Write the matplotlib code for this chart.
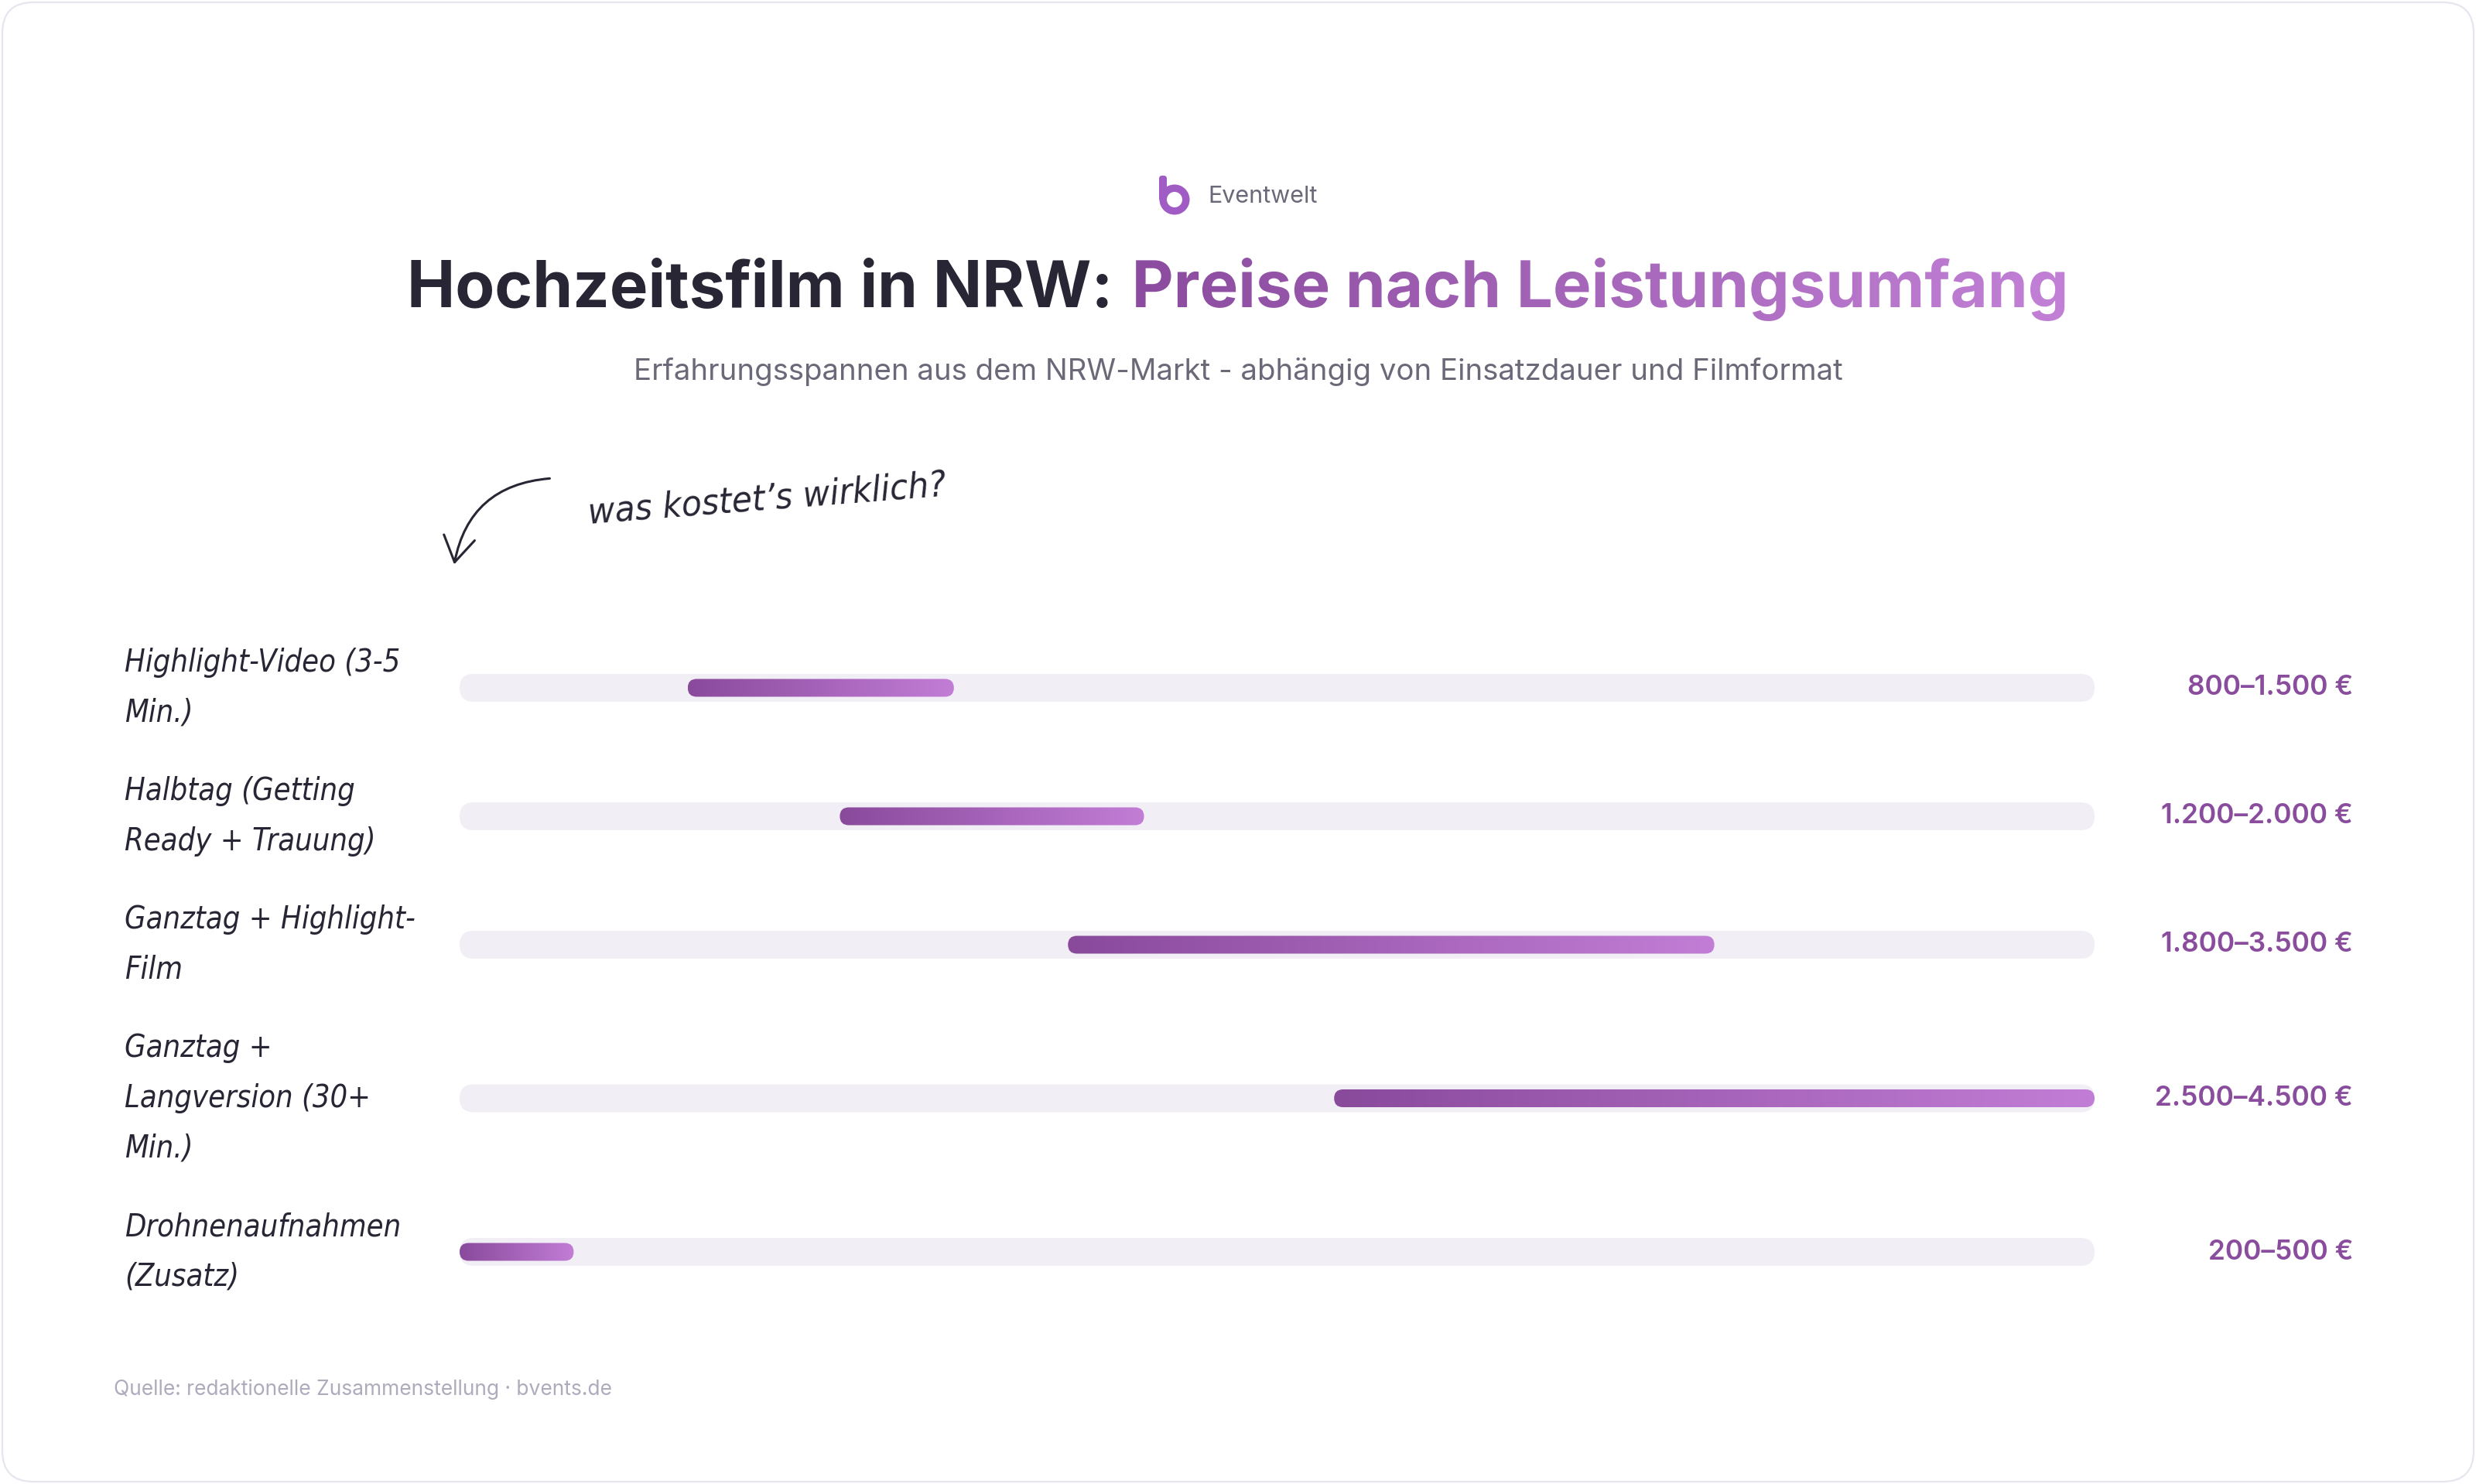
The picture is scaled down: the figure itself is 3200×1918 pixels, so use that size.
import textwrap
import numpy as np
import matplotlib
matplotlib.use("Agg")
import matplotlib.pyplot as plt
import matplotlib.colors as mcolors
from matplotlib import font_manager as fm
from matplotlib.patches import FancyBboxPatch, FancyArrowPatch, Wedge
from matplotlib.patheffects import AbstractPathEffect
from matplotlib.transforms import TransformedPath

# ---------------- data ----------------
categories = [
    "Highlight-Video (3-5 Min.)",
    "Halbtag (Getting Ready + Trauung)",
    "Ganztag + Highlight-Film",
    "Ganztag + Langversion (30+ Min.)",
    "Drohnenaufnahmen (Zusatz)",
]
price_low = [800, 1200, 1800, 2500, 200]
price_high = [1500, 2000, 3500, 4500, 500]

title_dark = "Hochzeitsfilm in NRW:"
title_purple = "Preise nach Leistungsumfang"
subtitle = "Erfahrungsspannen aus dem NRW-Markt - abhängig von Einsatzdauer und Filmformat"
brand = "Eventwelt"
annotation = "was kostet’s wirklich?"
source = "Quelle: redaktionelle Zusammenstellung · bvents.de"

# ---------------- style ----------------
W, H = 3200, 1918
DPI = 200
avail = {f.name for f in fm.fontManager.ttflist}
SANS = [f for f in ["Inter", "Lato", "DejaVu Sans"] if f in avail][0]
HAND = [f for f in ["Liberation Sans Narrow", "DejaVu Sans"] if f in avail][0]

DARK = "#282634"
GREY = "#6b6878"
PURPLE = "#8a4c9c"
GRAD0 = "#8a4a9c"
GRAD1 = "#c27dd6"
TRACK = "#f1eef6"


class GradientFill(AbstractPathEffect):
    """Fill the text outline with a horizontal colour gradient."""

    def __init__(self, c0, c1):
        super().__init__()
        self.c0 = np.array(mcolors.to_rgb(c0))
        self.c1 = np.array(mcolors.to_rgb(c1))

    def draw_path(self, renderer, gc, tpath, affine, rgbFace=None):
        tp = TransformedPath(tpath, affine)
        ext = tp.get_fully_transformed_path().get_extents()
        x0 = int(np.floor(ext.x0)) - 1
        y0 = int(np.floor(ext.y0)) - 1
        w = int(np.ceil(ext.x1)) - x0 + 2
        h = int(np.ceil(ext.y1)) - y0 + 2
        t = np.linspace(0, 1, w)
        rgb = (1 - t)[:, None] * self.c0 + t[:, None] * self.c1
        img = np.empty((h, w, 4), dtype=np.uint8)
        img[..., :3] = (rgb[None, :, :] * 255).astype(np.uint8)
        img[..., 3] = 255
        gc2 = renderer.new_gc()
        gc2.copy_properties(gc)
        gc2.set_clip_path(tp)
        renderer.draw_image(gc2, x0, y0, img)
        gc2.restore()


fig = plt.figure(figsize=(W / DPI, H / DPI), dpi=DPI, facecolor="white")
ax = fig.add_axes([0, 0, 1, 1])
ax.set_xlim(0, W)
ax.set_ylim(H, 0)
ax.axis("off")
renderer = fig.canvas.get_renderer()

HAND_KW = dict(family=HAND, style="italic", fontstretch="condensed", color=DARK)


def fit_size(text, target_px, **kw):
    t = ax.text(0, 0, text, fontsize=10, **kw)
    w = t.get_window_extent(renderer).width
    t.remove()
    return 10 * target_px / w


# card
ax.add_patch(FancyBboxPatch((3, 3), W - 6, H - 6,
                            boxstyle="round,pad=0,rounding_size=40",
                            facecolor="white", edgecolor="#e7e5ee", lw=0.8, zorder=0))

# brand logo (b) + name
logo_c = "#a05cc4"
ax.add_patch(Wedge((1518, 258), 19.5, 0, 360, width=9.5, facecolor=logo_c, edgecolor="none"))
ax.add_patch(FancyBboxPatch((1498, 227), 10, 33, boxstyle="round,pad=0,rounding_size=4",
                            facecolor=logo_c, edgecolor="none"))
ax.text(1561, 262, brand, fontsize=11, color=GREY, family=SANS, ha="left", va="baseline")

# title
t1 = ax.text(0, 397, title_dark, fontsize=30, fontweight="bold", color=DARK,
             family=SANS, ha="left", va="baseline")
t2 = ax.text(0, 397, title_purple, fontsize=30, fontweight="bold", color=GRAD0,
             family=SANS, ha="left", va="baseline",
             path_effects=[GradientFill("#8b4c9f", "#c281d6")])
w1 = t1.get_window_extent(renderer).width
w2 = t2.get_window_extent(renderer).width
gap = 24
start = W / 2 - (w1 + gap + w2) / 2
t1.set_x(start)
t2.set_x(start + w1 + gap)

ax.text(W / 2, 491, subtitle, fontsize=13.8, color=GREY, family=SANS,
        ha="center", va="baseline")

# handwritten annotation + arrow
ann_size = fit_size(annotation, 464, **HAND_KW)
ax.text(761, 677, annotation, fontsize=ann_size, rotation=4.5, rotation_mode="anchor",
        ha="left", va="baseline", **HAND_KW)
ax.add_patch(FancyArrowPatch((716, 618), (586, 735),
                             connectionstyle="arc3,rad=0.4",
                             arrowstyle="->,head_length=0.45,head_width=0.28",
                             mutation_scale=26, lw=1.1, color=DARK))

# ---------------- rows ----------------
labels = [textwrap.fill(c, 20) for c in categories]
nlines = [lab.count("\n") + 1 for lab in labels]
heights = [n * 65 + 36 for n in nlines]
ys = [889.0]
for i in range(1, len(labels)):
    ys.append(ys[-1] + (heights[i - 1] + heights[i]) / 2)

lab_size = fit_size("Drohnenaufnahmen", 357, **HAND_KW)
probe = ax.text(0, 0, "lp", fontsize=lab_size, **HAND_KW)
lp_h = probe.get_window_extent(renderer).height
probe.remove()
lab_ls = 1.1 * 65 / lp_h

track_x0, track_x1 = 594, 2707
axb = fig.add_axes([track_x0 / W, 0, (track_x1 - track_x0) / W, 1])
vmin, vmax = min(price_low), max(price_high)
axb.set_xlim(vmin, vmax)
axb.set_ylim(H, 0)
axb.axis("off")
axb.patch.set_alpha(0)


def pill(axx, x0, x1, yc, h_px):
    p0 = axx.transData.transform((x0, yc))
    p1 = axx.transData.transform((x1, yc))
    ppx = (p1[0] - p0[0]) / (x1 - x0)
    q = axx.transData.transform((x0, yc + 1))
    ppy = abs(q[1] - p0[1])
    r_px = h_px / 2
    r_x = r_px / ppx
    h_units = h_px / ppy
    return FancyBboxPatch((x0, yc - h_units / 2), x1 - x0, h_units,
                          boxstyle=f"round,pad=0,rounding_size={r_x}",
                          mutation_aspect=ppx / ppy, transform=axx.transData)


grad = np.linspace(0, 1, 256)[None, :]
cmap = mcolors.LinearSegmentedColormap.from_list("bar", [GRAD0, GRAD1])

for lab, lo, hi, y in zip(labels, price_low, price_high, ys):
    ax.text(161, y, lab, fontsize=lab_size, ha="left", va="center",
            linespacing=lab_ls, **HAND_KW)
    tr = pill(axb, vmin, vmax, y, 36)
    tr.set_facecolor(TRACK)
    tr.set_edgecolor("none")
    axb.add_patch(tr)
    bar = pill(axb, lo, hi, y, 23)
    bar.set_facecolor("none")
    bar.set_edgecolor("none")
    axb.add_patch(bar)
    im = axb.imshow(grad, cmap=cmap, extent=(lo, hi, y + 12, y - 12),
                    aspect="auto", interpolation="bilinear", zorder=3)
    im.set_clip_path(bar)
    txt = f"{lo:,}".replace(",", ".") + "–" + f"{hi:,}".replace(",", ".") + " €"
    ax.text(3041, y, txt, fontsize=12.7, fontweight="semibold", color=PURPLE,
            family=SANS, ha="right", va="center")

axb.set_xlim(vmin, vmax)
axb.set_ylim(H, 0)
axb.set_aspect("auto")

ax.text(147, 1803, source, fontsize=9.5, color="#aeacbc", family=SANS,
        ha="left", va="baseline")

fig.savefig("out.png", dpi=DPI, facecolor="white")
